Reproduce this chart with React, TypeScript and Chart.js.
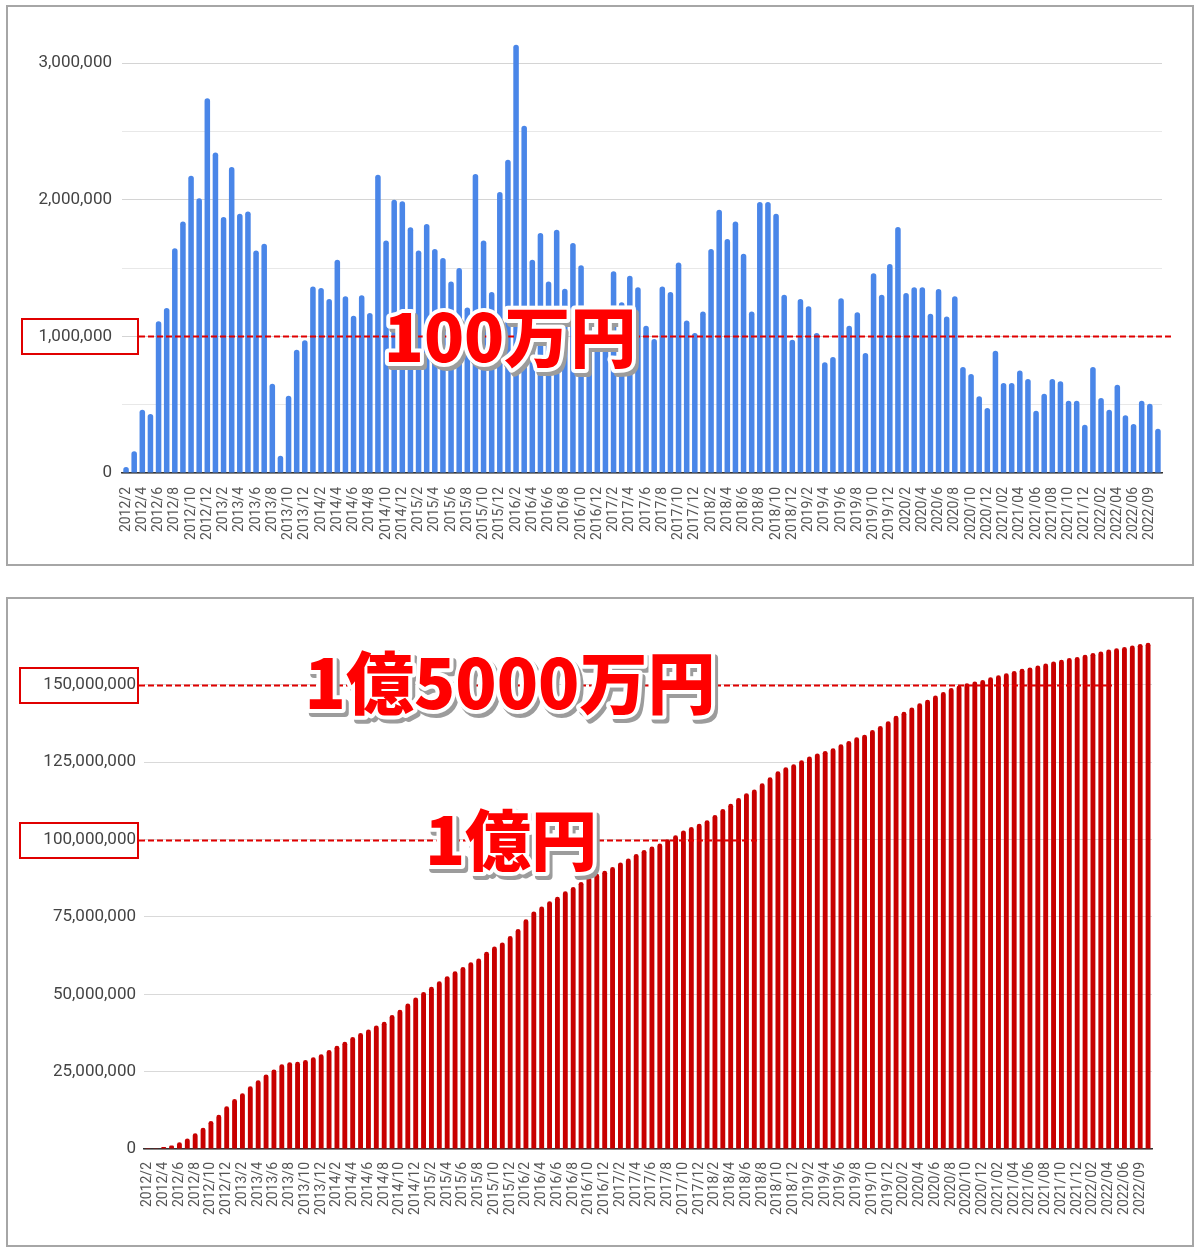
import React, { useEffect, useRef } from 'react';
import { Chart, registerables } from 'chart.js';

Chart.register(...registerables);

// ---- categories (month labels) ----
const MONTH_LABELS = [
  '2012/2', '2012/3', '2012/4', '2012/5', '2012/6', '2012/7', '2012/8', '2012/9', '2012/10', '2012/11', '2012/12',
  '2013/1', '2013/2', '2013/3', '2013/4', '2013/5', '2013/6', '2013/7', '2013/8', '2013/9', '2013/10', '2013/11', '2013/12',
  '2014/1', '2014/2', '2014/3', '2014/4', '2014/5', '2014/6', '2014/7', '2014/8', '2014/9', '2014/10', '2014/11', '2014/12',
  '2015/1', '2015/2', '2015/3', '2015/4', '2015/5', '2015/6', '2015/7', '2015/8', '2015/9', '2015/10', '2015/11', '2015/12',
  '2016/1', '2016/2', '2016/3', '2016/4', '2016/5', '2016/6', '2016/7', '2016/8', '2016/9', '2016/10', '2016/11', '2016/12',
  '2017/1', '2017/2', '2017/3', '2017/4', '2017/5', '2017/6', '2017/7', '2017/8', '2017/9', '2017/10', '2017/11', '2017/12',
  '2018/1', '2018/2', '2018/3', '2018/4', '2018/5', '2018/6', '2018/7', '2018/8', '2018/9', '2018/10', '2018/11', '2018/12',
  '2019/1', '2019/2', '2019/3', '2019/4', '2019/5', '2019/6', '2019/7', '2019/8', '2019/9', '2019/10', '2019/11', '2019/12',
  '2020/1', '2020/2', '2020/3', '2020/4', '2020/5', '2020/6', '2020/7', '2020/8', '2020/9', '2020/10', '2020/11', '2020/12',
  '2021/01', '2021/02', '2021/03', '2021/04', '2021/05', '2021/06', '2021/07', '2021/08', '2021/09', '2021/10', '2021/11', '2021/12',
  '2022/01', '2022/02', '2022/03', '2022/04', '2022/05', '2022/06', '2022/07', '2022/09', '2022/10',
];

// ---- monthly amounts (yen) ----
const MONTHLY = [
  44000, 159000, 463000, 432000, 1110000, 1207000, 1646000, 1841000, 2176000, 2012000, 2744000,
  2346000, 1873000, 2239000, 1898000, 1915000, 1629000, 1678000, 654000, 127000, 566000, 902000, 971000,
  1366000, 1354000, 1273000, 1561000, 1293000, 1151000, 1302000, 1171000, 2183000, 1702000, 2000000, 1990000,
  1798000, 1629000, 1822000, 1639000, 1573000, 1402000, 1500000, 1212000, 2188000, 1702000, 1324000, 2056000,
  2293000, 3134000, 2541000, 1561000, 1756000, 1402000, 1780000, 1349000, 1683000, 1520000, 1120000, 980000,
  1200000, 1476000, 1249000, 1444000, 1359000, 1078000, 980000, 1366000, 1324000, 1541000, 1117000, 1024000,
  1183000, 1639000, 1927000, 1712000, 1841000, 1605000, 1183000, 1983000, 1983000, 1898000, 1305000, 976000,
  1273000, 1220000, 1024000, 810000, 849000, 1280000, 1078000, 1176000, 878000, 1463000, 1305000, 1529000,
  1800000, 1317000, 1359000, 1359000, 1166000, 1346000, 1146000, 1293000, 776000, 724000, 561000, 476000,
  895000, 659000, 659000, 751000, 688000, 456000, 580000, 688000, 671000, 529000, 529000, 354000,
  776000, 549000, 463000, 646000, 422000, 359000, 529000, 507000, 324000,
];

// ---- cumulative amounts (yen) ----
const CUMULATIVE = [
  44000, 203000, 666000, 1098000, 2208000, 3415000, 5061000, 6902000, 9078000, 11090000, 13834000,
  16180000, 18053000, 20292000, 22190000, 24105000, 25734000, 27412000, 28066000, 28193000, 28759000, 29661000, 30632000,
  31998000, 33352000, 34625000, 36186000, 37479000, 38630000, 39932000, 41103000, 43286000, 44988000, 46988000, 48978000,
  50776000, 52405000, 54227000, 55866000, 57439000, 58841000, 60341000, 61553000, 63741000, 65443000, 66767000, 68823000,
  71116000, 74250000, 76791000, 78352000, 80108000, 81510000, 83290000, 84639000, 86322000, 87842000, 88962000, 89942000,
  91142000, 92618000, 93867000, 95311000, 96670000, 97748000, 98728000, 100094000, 101418000, 102959000, 104076000, 105100000,
  106283000, 107922000, 109849000, 111561000, 113402000, 115007000, 116190000, 118173000, 120156000, 122054000, 123359000, 124335000,
  125608000, 126828000, 127852000, 128662000, 129511000, 130791000, 131869000, 133045000, 133923000, 135386000, 136691000, 138220000,
  140020000, 141337000, 142696000, 144055000, 145221000, 146567000, 147713000, 149006000, 149782000, 150506000, 151067000, 151543000,
  152438000, 153097000, 153756000, 154507000, 155195000, 155651000, 156231000, 156919000, 157590000, 158119000, 158648000, 159002000,
  159778000, 160327000, 160790000, 161436000, 161858000, 162217000, 162746000, 163253000, 163577000,
];

// ---- y-axis ticks ----
const TOP_Y_TICKS = [0, 500000, 1000000, 1500000, 2000000, 2500000, 3000000];
const TOP_Y_LABEL_STEP = 1000000;
const BOTTOM_Y_TICKS = [0, 25000000, 50000000, 75000000, 100000000, 125000000, 150000000];

// ---- annotation values / texts ----
const TOP_MARK_VALUES = [1000000];
const TOP_TEXTS = ['100万円'];
const BOTTOM_MARK_VALUES = [150000000, 100000000];
const BOTTOM_TEXTS = ['1億5000万円', '1億円'];

type Mark = { value: number; boxLeft: number; boxRight: number; x1: number };
type BigText = { text: string; x: number; value: number; dy: number; size: number };

function annotationPlugin(marks: Mark[], texts: BigText[]) {
  return {
    id: 'bigAnnotations',
    afterDatasetsDraw(chart: any) {
      const ctx = chart.ctx as CanvasRenderingContext2D;
      const y = chart.scales.y;
      ctx.save();
      marks.forEach((m) => {
        const py = Math.round(y.getPixelForValue(m.value)) + 0.5;
        ctx.strokeStyle = '#e00000';
        ctx.lineWidth = 2;
        ctx.setLineDash([]);
        ctx.strokeRect(m.boxLeft, py - 17.5, m.boxRight - m.boxLeft, 35);
        ctx.setLineDash([6, 3]);
        ctx.beginPath();
        ctx.moveTo(m.boxRight + 1, py);
        ctx.lineTo(m.x1, py);
        ctx.stroke();
      });
      ctx.setLineDash([]);
      texts.forEach((t) => {
        const px = t.x;
        const py = y.getPixelForValue(t.value) + t.dy;
        ctx.font = `900 ${t.size}px "Noto Sans CJK JP", "Noto Sans CJK SC", sans-serif`;
        ctx.textAlign = 'center';
        ctx.textBaseline = 'middle';
        ctx.lineJoin = 'round';
        // drop shadow
        ctx.fillStyle = '#9c9c9c';
        ctx.strokeStyle = '#9c9c9c';
        ctx.lineWidth = 8;
        ctx.strokeText(t.text, px + 3, py + 4);
        ctx.fillText(t.text, px + 3, py + 4);
        // white outline
        ctx.strokeStyle = '#ffffff';
        ctx.lineWidth = 8;
        ctx.strokeText(t.text, px, py);
        // red fill
        ctx.fillStyle = '#ff0000';
        ctx.fillText(t.text, px, py);
      });
      ctx.restore();
    },
  };
}

const fmt = (v: number) => Number(v).toLocaleString('en-US');

export default function App() {
  const topRef = useRef<HTMLCanvasElement>(null);
  const botRef = useRef<HTMLCanvasElement>(null);

  useEffect(() => {
    const topChart = new Chart(topRef.current as HTMLCanvasElement, {
      type: 'bar',
      data: {
        labels: MONTH_LABELS,
        datasets: [
          {
            data: MONTHLY,
            backgroundColor: '#4a86e8',
            barPercentage: 0.68,
            categoryPercentage: 1,
            borderRadius: { topLeft: 3, topRight: 3, bottomLeft: 0, bottomRight: 0 },
            borderSkipped: 'start',
          },
        ],
      },
      options: {
        animation: false,
        responsive: false,
        layout: { padding: { left: 0, right: 38, top: 29, bottom: 0 } },
        plugins: { legend: { display: false }, tooltip: { enabled: false } },
        scales: {
          x: {
            grid: { display: false },
            border: { display: true, color: '#333333', width: 1.5 },
            ticks: {
              autoSkip: false,
              maxRotation: 90,
              minRotation: 90,
              padding: 6,
              color: '#555555',
              font: { family: 'Roboto', size: 14 },
              callback: (_v: any, i: number) => (i % 2 === 0 ? MONTH_LABELS[i] : ''),
            },
            afterFit: (a: any) => {
              a.height = 92;
            },
          },
          y: {
            min: 0,
            max: 3250000,
            border: { display: false },
            grid: {
              drawTicks: false,
              color: (c: any) =>
                c.tick && c.tick.value % TOP_Y_LABEL_STEP === 0 ? '#d4d4d4' : '#e8e8e8',
            },
            ticks: {
              padding: 10,
              color: '#444444',
              font: { family: 'Roboto', size: 17 },
              callback: (v: any) => (Number(v) % TOP_Y_LABEL_STEP === 0 ? fmt(v) : ''),
            },
            afterBuildTicks: (a: any) => {
              a.ticks = TOP_Y_TICKS.map((v) => ({ value: v }));
            },
            afterFit: (a: any) => {
              a.width = 122;
            },
          },
        },
      },
      plugins: [
        annotationPlugin(
          [{ value: TOP_MARK_VALUES[0], boxLeft: 22, boxRight: 138, x1: 1173 }],
          [{ text: TOP_TEXTS[0], x: 510, value: TOP_MARK_VALUES[0], dy: 1, size: 66 }]
        ),
      ],
    } as any);

    const botChart = new Chart(botRef.current as HTMLCanvasElement, {
      type: 'bar',
      data: {
        labels: MONTH_LABELS,
        datasets: [
          {
            data: CUMULATIVE,
            backgroundColor: '#c80000',
            barPercentage: 0.62,
            categoryPercentage: 1,
            borderRadius: { topLeft: 3, topRight: 3, bottomLeft: 0, bottomRight: 0 },
            borderSkipped: 'start',
          },
        ],
      },
      options: {
        animation: false,
        responsive: false,
        layout: { padding: { left: 0, right: 48, top: 24, bottom: 0 } },
        plugins: { legend: { display: false }, tooltip: { enabled: false } },
        scales: {
          x: {
            grid: { display: false },
            border: { display: true, color: '#333333', width: 1.5 },
            ticks: {
              autoSkip: false,
              maxRotation: 90,
              minRotation: 90,
              padding: 5,
              color: '#555555',
              font: { family: 'Roboto', size: 14 },
              callback: (_v: any, i: number) => (i % 2 === 0 ? MONTH_LABELS[i] : ''),
            },
            afterFit: (a: any) => {
              a.height = 96;
            },
          },
          y: {
            min: 0,
            max: 170000000,
            border: { display: false },
            grid: { drawTicks: false, color: '#d9d9d9' },
            ticks: {
              padding: 8,
              color: '#444444',
              font: { family: 'Roboto', size: 17 },
              callback: (v: any) => fmt(v),
            },
            afterBuildTicks: (a: any) => {
              a.ticks = BOTTOM_Y_TICKS.map((v) => ({ value: v }));
            },
            afterFit: (a: any) => {
              a.width = 144;
            },
          },
        },
      },
      plugins: [
        annotationPlugin(
          [
            { value: BOTTOM_MARK_VALUES[0], boxLeft: 20, boxRight: 138, x1: 1112 },
            { value: BOTTOM_MARK_VALUES[1], boxLeft: 20, boxRight: 138, x1: 760 },
          ],
          [
            { text: BOTTOM_TEXTS[0], x: 510, value: BOTTOM_MARK_VALUES[0], dy: -2, size: 68 },
            { text: BOTTOM_TEXTS[1], x: 511, value: BOTTOM_MARK_VALUES[1], dy: 0, size: 66 },
          ]
        ),
      ],
    } as any);

    return () => {
      topChart.destroy();
      botChart.destroy();
    };
  }, []);

  return (
    <div
      style={{
        position: 'absolute',
        left: 0,
        top: 0,
        width: 1200,
        height: 1251,
        background: '#ffffff',
        overflow: 'hidden',
      }}
    >
      <canvas
        ref={topRef}
        width={1200}
        height={565}
        style={{ position: 'absolute', left: 0, top: 0, display: 'block' }}
      />
      <canvas
        ref={botRef}
        width={1200}
        height={646}
        style={{ position: 'absolute', left: 0, top: 599, display: 'block' }}
      />
      <div
        style={{
          position: 'absolute',
          left: 6,
          top: 5,
          width: 1188,
          height: 561,
          boxSizing: 'border-box',
          border: '2px solid #a6a6a6',
          pointerEvents: 'none',
        }}
      />
      <div
        style={{
          position: 'absolute',
          left: 6,
          top: 597,
          width: 1188,
          height: 650,
          boxSizing: 'border-box',
          border: '2px solid #a6a6a6',
          pointerEvents: 'none',
        }}
      />
    </div>
  );
}
